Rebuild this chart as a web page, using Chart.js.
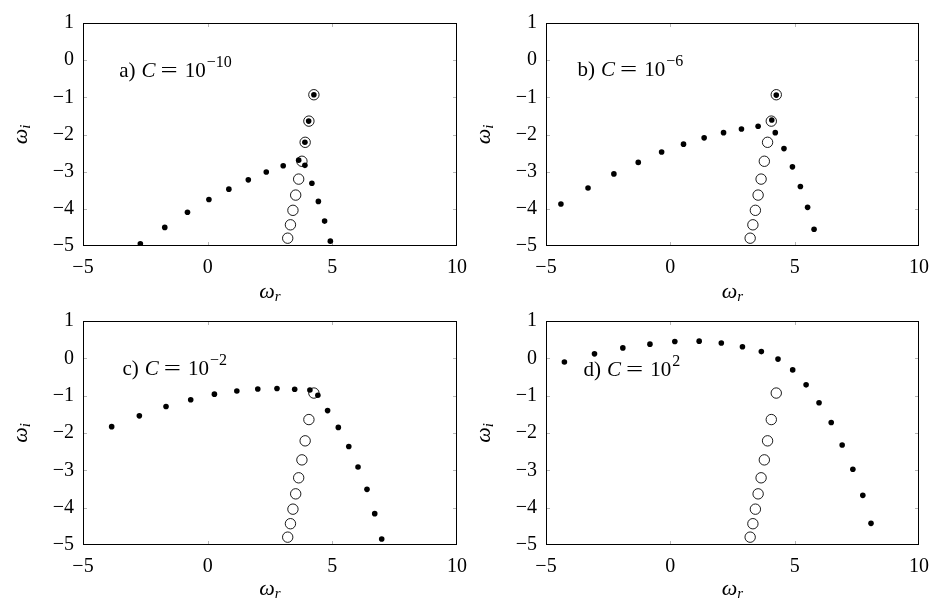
<!DOCTYPE html>
<html><head><meta charset="utf-8">
<script src="https://cdn.jsdelivr.net/npm/chart.js@4.4.0/dist/chart.umd.min.js"></script>
<style>
html,body{margin:0;padding:0;background:#fff;}
#wrap{position:relative;width:938px;height:605px;overflow:hidden;}
canvas{position:absolute;}
</style></head><body>
<div id="wrap">
<canvas id="ca" width="469" height="302" style="left:0;top:0"></canvas>
<canvas id="cb" width="469" height="302" style="left:469px;top:0"></canvas>
<canvas id="cc" width="469" height="303" style="left:0;top:302px"></canvas>
<canvas id="cd" width="469" height="303" style="left:469px;top:302px"></canvas>
</div>
<script>
// ---- data ----
const xTicks = [-5, 0, 5, 10];
const yTicks = [-5, -4, -3, -2, -1, 0, 1];

// open circles (same in all panels)
const openR = [4.26, 4.06, 3.91, 3.78, 3.65, 3.53, 3.42, 3.32, 3.21];
const openI = [-0.93, -1.64, -2.21, -2.72, -3.20, -3.63, -4.04, -4.43, -4.79];

// a) C = 1e-10
const aR = [-2.70, -1.72, -0.81, 0.05, 0.85, 1.63, 2.35, 3.03, 3.65, 3.90, 4.18, 4.44, 4.69, 4.92, 3.90, 4.05, 4.26];
const aI = [-4.94, -4.50, -4.09, -3.75, -3.47, -3.22, -3.01, -2.84, -2.69, -2.83, -3.31, -3.80, -4.33, -4.87, -2.21, -1.64, -0.93];
// b) C = 1e-6
const bR = [-4.40, -3.31, -2.27, -1.29, -0.35, 0.53, 1.36, 2.14, 2.86, 3.53, 4.08, 4.22, 4.57, 4.91, 5.23, 5.52, 5.78, 4.26];
const bI = [-3.87, -3.44, -3.06, -2.75, -2.47, -2.26, -2.09, -1.95, -1.85, -1.78, -1.61, -1.95, -2.38, -2.87, -3.40, -3.96, -4.55, -0.94];
// c) C = 1e-2
const cR = [-3.85, -2.74, -1.67, -0.68, 0.27, 1.17, 2.01, 2.78, 3.49, 4.10, 4.42, 4.81, 5.24, 5.66, 6.03, 6.39, 6.70, 6.98];
const cI = [-1.83, -1.54, -1.29, -1.11, -0.96, -0.875, -0.82, -0.81, -0.83, -0.85, -0.99, -1.40, -1.85, -2.36, -2.91, -3.51, -4.16, -4.84];
// d) C = 1e2
const dR = [-4.26, -3.05, -1.91, -0.82, 0.18, 1.16, 2.05, 2.90, 3.66, 4.33, 4.92, 5.46, 5.98, 6.47, 6.91, 7.34, 7.74, 8.07];
const dI = [-0.10, 0.12, 0.28, 0.38, 0.45, 0.46, 0.41, 0.31, 0.18, -0.02, -0.31, -0.71, -1.19, -1.72, -2.32, -2.97, -3.67, -4.42];

const panelLetters = ['a)', 'b)', 'c)', 'd)'];
const panelExps = ['−10', '−6', '−2', '2'];

// ---- helpers ----
const SERIF = "'Liberation Serif', 'Times New Roman', serif";
Chart.defaults.font.family = SERIF;
Chart.defaults.color = '#000';

function pts(xs, ys) { return xs.map((v, i) => ({ x: v, y: ys[i] })); }
function fmt(v) { return v < 0 ? '−' + Math.abs(v) : String(v); }

const framePlugin = {
  id: 'frame',
  beforeDatasetsDraw(chart) {
    const { ctx, chartArea: ca, scales: { x, y } } = chart;
    ctx.save();
    ctx.strokeStyle = '#b5b5b5';
    ctx.lineWidth = 1;
    const L = Math.round(ca.left), R = Math.round(ca.right), T = Math.round(ca.top), B = Math.round(ca.bottom);
    const tl = 4;
    ctx.beginPath();
    x.ticks.forEach(t => {
      if (t.value === x.min || t.value === x.max) return;
      const px = Math.round(x.getPixelForValue(t.value)) + 0.5;
      ctx.moveTo(px, B); ctx.lineTo(px, B - tl);
      ctx.moveTo(px, T); ctx.lineTo(px, T + tl);
    });
    y.ticks.forEach(t => {
      if (t.value === y.min || t.value === y.max) return;
      const py = Math.round(y.getPixelForValue(t.value)) + 0.5;
      ctx.moveTo(L, py); ctx.lineTo(L + tl, py);
      ctx.moveTo(R, py); ctx.lineTo(R - tl, py);
    });
    ctx.stroke();
    ctx.strokeStyle = '#000';
    ctx.strokeRect(L + 0.5, T + 0.5, R - L - 1, B - T - 1);
    ctx.restore();
  },
  afterDraw(chart, args, opts) {
    const { ctx, chartArea: ca, scales: { x, y } } = chart;
    ctx.save();
    ctx.fillStyle = '#000';
    ctx.textBaseline = 'alphabetic';
    // x-axis title  ω_r
    const cx = (ca.left + ca.right) / 2;
    ctx.font = 'italic 22px ' + SERIF;
    const w1 = ctx.measureText('ω').width;
    ctx.font = 'italic 15px ' + SERIF;
    const w2 = ctx.measureText('r').width;
    let sx = cx - (w1 + w2) / 2;
    ctx.font = 'italic 22px ' + SERIF;
    ctx.fillText('ω', sx, opts.xTitleY);
    ctx.font = 'italic 15px ' + SERIF;
    ctx.fillText('r', sx + w1, opts.xTitleY + 3);
    // y-axis title ω_i
    const cy = (ca.top + ca.bottom) / 2;
    ctx.translate(ca.left - 56, cy);
    ctx.rotate(-Math.PI / 2);
    ctx.font = 'italic 22px ' + SERIF;
    const v1 = ctx.measureText('ω').width;
    ctx.font = 'italic 15px ' + SERIF;
    const v2 = ctx.measureText('i').width;
    let sy = -(v1 + v2) / 2;
    ctx.font = 'italic 22px ' + SERIF;
    ctx.fillText('ω', sy, 0);
    ctx.font = 'italic 15px ' + SERIF;
    ctx.fillText('i', sy + v1, 3);
    ctx.setTransform(1, 0, 0, 1, 0, 0);
    // panel label
    let lx = x.getPixelForValue(opts.labelX);
    const ly = y.getPixelForValue(opts.labelY);
    ctx.font = '21px ' + SERIF;
    ctx.fillText(opts.letter, lx, ly);
    lx += ctx.measureText(opts.letter).width + 6;
    ctx.font = 'italic 21px ' + SERIF;
    ctx.fillText('C', lx, ly);
    lx += ctx.measureText('C').width + 5;
    ctx.font = '21px ' + SERIF;
    ctx.save();
    ctx.translate(lx, ly);
    ctx.scale(1.45, 1);
    ctx.fillText('=', 0, 0);
    ctx.restore();
    lx += ctx.measureText('=').width * 1.45 + 7;
    ctx.fillText('10', lx, ly);
    lx += ctx.measureText('10').width + 1;
    ctx.font = '16px ' + SERIF;
    ctx.fillText(opts.exp, lx, ly - 10);
    ctx.restore();
  }
};

function makeChart(id, fr, fi, idx, geo) {
  const cv = document.getElementById(id);
  const W = cv.width, H = cv.height;
  return new Chart(cv, {
    type: 'scatter',
    data: {
      datasets: [
        { data: pts(fr, fi), pointRadius: 2.8, pointBackgroundColor: '#000', pointBorderWidth: 0, pointHoverRadius: 2.8 },
        { data: pts(openR, openI), pointRadius: 5.2, pointBackgroundColor: 'rgba(0,0,0,0)', pointBorderColor: '#000', pointBorderWidth: 0.9, pointHoverRadius: 5.2 }
      ]
    },
    options: {
      responsive: false,
      animation: false,
      events: [],
      layout: { padding: { left: 0, top: geo.T, right: W - geo.R, bottom: 0 } },
      plugins: {
        legend: { display: false },
        tooltip: { enabled: false },
        frame: { letter: panelLetters[idx], exp: panelExps[idx], labelX: geo.lx, labelY: geo.ly, xTitleY: geo.xt }
      },
      scales: {
        x: {
          type: 'linear', min: xTicks[0], max: xTicks[xTicks.length - 1],
          afterBuildTicks: s => { s.ticks = xTicks.map(v => ({ value: v })); },
          grid: { display: false, drawTicks: false },
          border: { display: false },
          ticks: { callback: fmt, font: { size: 20, family: SERIF }, color: '#000', padding: 10, autoSkip: false, maxRotation: 0 },
          afterFit: s => { s.height = H - geo.B; s.paddingLeft = 0; s.paddingRight = 0; }
        },
        y: {
          type: 'linear', min: yTicks[0], max: yTicks[yTicks.length - 1],
          afterBuildTicks: s => { s.ticks = yTicks.map(v => ({ value: v })); },
          grid: { display: false, drawTicks: false },
          border: { display: false },
          ticks: { callback: fmt, font: { size: 20, family: SERIF }, color: '#000', padding: 9, autoSkip: false },
          afterFit: s => { s.width = geo.L; s.paddingTop = 0; s.paddingBottom = 0; }
        }
      }
    },
    plugins: [framePlugin]
  });
}

makeChart('ca', aR, aI, 0, { L: 83, R: 457, T: 23, B: 246, lx: -3.55, ly: -0.45, xt: 298 });
makeChart('cb', bR, bI, 1, { L: 77, R: 450, T: 23, B: 246, lx: -3.73, ly: -0.42, xt: 298 });
makeChart('cc', cR, cI, 2, { L: 83, R: 457, T: 19, B: 243, lx: -3.42, ly: -0.45, xt: 293 });
makeChart('cd', dR, dI, 3, { L: 77, R: 450, T: 19, B: 243, lx: -3.49, ly: -0.47, xt: 293 });
</script>
</body></html>
